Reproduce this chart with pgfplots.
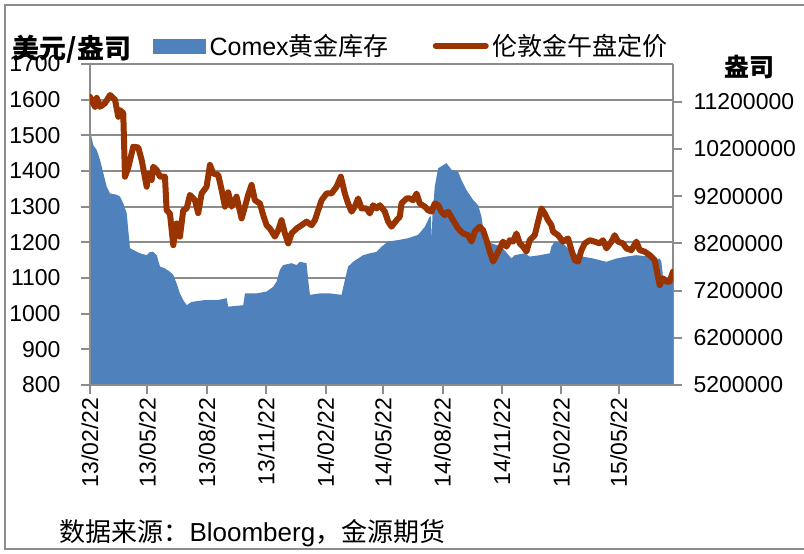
\documentclass[border=0pt]{standalone}
\usepackage{fontspec}
\setmainfont{Liberation Sans}
\newfontfamily\cjk{Noto Sans CJK SC}
\usepackage{pgfplots}
\pgfplotsset{compat=1.18}
\usepackage{pgfplotstable}
\definecolor{areablue}{HTML}{4F81BD}
\definecolor{linebrown}{HTML}{993300}
\definecolor{gridgray}{HTML}{8C8C8C}

\pgfplotstableread{
day price
0 1608
7.7 1580
10.4 1605
15.5 1580
23.2 1590
31 1613
38.7 1600
43.8 1552
46.4 1571
51.5 1562
54.2 1384
59.3 1410
67 1468
74.8 1466
80 1431
87.8 1356
90.2 1393
95.5 1375
98 1412
103.3 1403
108.4 1384
116.1 1384
118.7 1290
123.8 1281
129 1192
134.2 1253
139.3 1216
144.4 1290
149.7 1295
154.8 1333
162.5 1318
167.6 1282
172.9 1337
180.6 1356
185.8 1417
190.9 1393
198.6 1389
203.9 1347
209 1300
214.1 1340
219.3 1300
221.8 1309
227 1328
234.8 1267
240 1300
245 1333
250.3 1361
255.4 1318
263.2 1309
268.3 1276
273.5 1248
278.6 1239
286.4 1216
291.5 1234
296.7 1262
301.9 1225
307 1197
312.2 1225
320 1239
327.7 1248
335.4 1258
343.2 1248
348.3 1262
353.4 1290
358.7 1318
366.4 1337
374.1 1337
381.9 1356
388.5 1384
394.7 1337
399.8 1309
405.1 1286
410.2 1300
415.3 1323
420.6 1295
428.3 1295
433.4 1281
438.6 1304
443.8 1295
448.9 1304
456.7 1286
461.8 1258
467 1244
474.8 1262
479.9 1272
482.5 1309
490.3 1323
495.4 1323
500.5 1318
505.8 1337
510.8 1309
518.6 1300
523.7 1290
529 1286
534 1309
539.2 1304
544.4 1286
549.5 1276
554.7 1286
562.4 1262
570.1 1239
577.9 1225
585.6 1220
590.9 1202
596 1230
603.7 1244
608.8 1234
614.1 1206
619.2 1174
624.4 1146
629.6 1164
634.7 1183
639.8 1202
645.1 1188
650.2 1206
655.3 1202
660.5 1225
665.6 1197
670.8 1188
676 1174
681.1 1206
688.9 1220
694 1258
699.2 1295
704.3 1281
709.5 1262
714.7 1248
717.2 1230
724.9 1220
732.7 1202
740.4 1211
745.7 1178
750.8 1150
755.9 1146
761.2 1178
766.3 1197
774 1206
781.7 1202
789.5 1197
794.6 1206
799.9 1183
807.6 1202
812.7 1220
817.8 1202
825.5 1197
830.8 1183
838.5 1178
846.3 1202
851.4 1178
859.1 1174
866.9 1164
874.6 1150
879.7 1104
882.4 1080
887.5 1099
892.7 1090
897.9 1090
903 1118
}\pricetable

\pgfplotstableread{
day stock
0 10600000
5.1 10280000
10.4 10180000
15.5 9970000
20.6 9690000
25.9 9400000
31 9260000
41.3 9230000
46.4 9190000
51.5 9050000
56.8 8840000
59.3 8480000
61.9 8100000
67 8060000
77.4 7990000
87.8 7950000
92.9 8020000
98 8020000
103.3 7950000
108.4 7710000
116.1 7670000
123.8 7600000
129 7530000
134.2 7350000
139.3 7140000
144.4 7000000
149.7 6890000
157.4 6960000
178 7000000
198.6 7000000
211.6 7040000
214.1 6860000
237.3 6890000
240 7140000
258 7140000
273.5 7180000
283.7 7280000
289 7390000
294.1 7640000
299.2 7740000
312.2 7780000
320 7740000
325.1 7810000
335.4 7780000
338 7420000
340.6 7110000
356 7140000
371.5 7140000
389.6 7110000
394.7 7420000
399.8 7710000
407.6 7810000
415.3 7880000
423.1 7950000
433.4 7990000
443.8 8020000
451.5 8130000
461.8 8240000
477.3 8270000
492.7 8310000
508.2 8380000
518.6 8550000
526.3 8770000
528 8770000
529 8270000
530.5 8800000
534 9400000
539.2 9790000
552.2 9900000
559.9 9760000
570.1 9720000
575.4 9540000
583.1 9330000
593.3 9120000
601.1 9010000
606.3 8770000
611.5 8270000
621.8 8200000
637.3 8130000
652.8 7880000
657.9 7950000
673.4 7990000
681.1 7920000
696.6 7950000
712.1 7990000
714.7 8130000
719.8 8240000
732.7 8200000
748.2 7990000
763.6 7920000
779.1 7880000
799.9 7810000
815.2 7880000
830.8 7920000
846.3 7950000
866.9 7920000
877.2 7850000
882.4 7880000
885 7810000
887.5 7490000
892.7 7420000
903 7420000
}\stocktable

\begin{document}
\begin{tikzpicture}[x=1pt,y=1pt]
\useasboundingbox (0,0) rectangle (804,554);
\fill[white] (0,0) rectangle (804,554);
\draw[gridgray, line width=2pt] (5,5) rectangle (815,549);
\pgfplotsset{
  base/.style={scale only axis, width=583pt, height=321pt, at={(90pt,169pt)}, anchor=south west,
    xmin=0, xmax=903, /pgf/number format/assume math mode=true,
    /pgf/number format/1000 sep={}},
  tickfont/.style={font=\fontsize{23}{27}\selectfont},
}
% grid layer
\begin{axis}[base, ymin=800, ymax=1700, ytick={800,900,...,1700}, ymajorgrids,
  grid style={gridgray, line width=2pt}, axis line style={draw=none}, xtick=\empty,
  yticklabels={}, major tick length=0pt]
\addplot[draw=none] coordinates {(0,800)};
\end{axis}
% inventory (right axis)
\begin{axis}[base, ymin=5200000, ymax=12000000, axis x line=none, axis y line*=right,
  ytick={5200000,6200000,7200000,8200000,9200000,10200000,11200000},
  yticklabels={5200000,6200000,7200000,8200000,9200000,10200000,11200000},
  scaled y ticks=false, tick align=outside, major tick length=9pt,
  axis line style={gridgray, line width=2pt}, tick style={gridgray, line width=2pt},
  yticklabel style={tickfont, anchor=west, xshift=8pt}]
\addplot[fill=areablue, draw=none] table[x=day, y=stock] {\stocktable} \closedcycle;
\end{axis}
% price (left axis)
\begin{axis}[base, ymin=800, ymax=1700, ytick={800,900,...,1700},
  axis x line*=bottom, axis y line*=left,
  xtick={0,89,181,273,365,454,546,638,730,819},
  xticklabels={13/02/22,13/05/22,13/08/22,13/11/22,14/02/22,14/05/22,14/08/22,14/11/22,15/02/22,15/05/22},
  xticklabel style={tickfont, rotate=90, anchor=east, yshift=0pt},
  yticklabel style={tickfont, anchor=east, xshift=-17pt},
  tick align=outside, major tick length=9pt,
  axis line style={gridgray, line width=2pt}, tick style={gridgray, line width=2pt},
  legend columns=2,
  legend style={at={(axis description cs:0.108,1.056)}, anchor=west, draw=none, fill=none,
    inner sep=0pt, font=\fontsize{25}{28}\selectfont,
    /tikz/every even column/.append style={column sep=40pt},
    nodes={inner xsep=4pt, inner ysep=0pt}},
  legend cell align=left]
\addlegendimage{legend image code/.code={\fill[areablue] (0pt,-7pt) rectangle (52pt,7pt);}}
\addlegendentry{Comex{\cjk 黄金库存}}
\addlegendimage{legend image code/.code={\draw[linebrown, line width=6pt, line cap=round] (2pt,0pt) -- (52pt,0pt);}}
\addlegendentry{{\cjk 伦敦金午盘定价}}
\addplot[linebrown, line width=6pt, line join=round, line cap=round] table[x=day, y=price] {\pricetable};
\end{axis}
\node[font=\cjk\bfseries\fontsize{27}{30}\selectfont] at (72,504.5) {美元/盎司};
\node[font=\cjk\bfseries\fontsize{25}{28}\selectfont] at (749,486.5) {盎司};
\node[anchor=west, font=\fontsize{26}{30}\selectfont] at (56,21) {{\cjk 数据来源：}Bloomberg{\cjk ，金源期货}};
\end{tikzpicture}
\end{document}
